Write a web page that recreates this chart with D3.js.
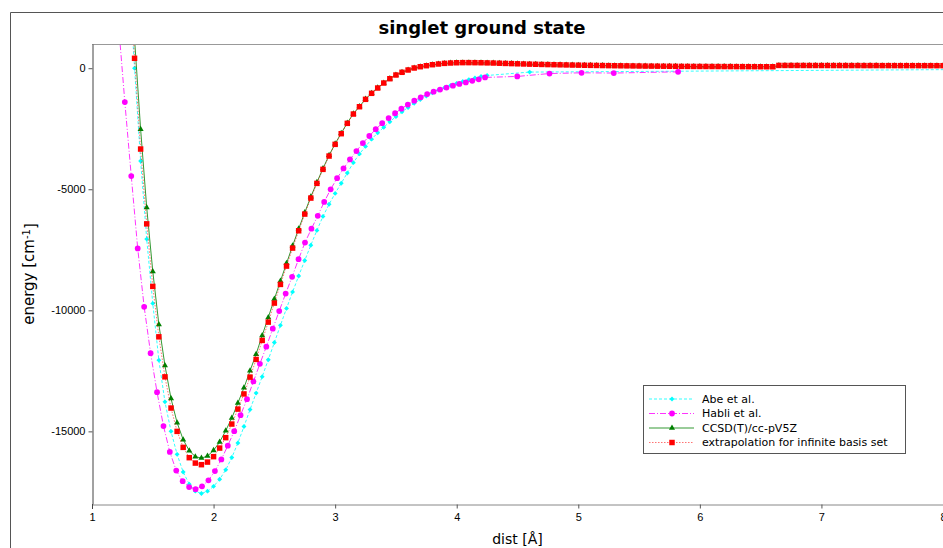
<!DOCTYPE html>
<html>
<head>
<meta charset="utf-8">
<script src="https://cdn.jsdelivr.net/npm/d3@7"></script>
<style>
body { margin: 0; background: #fff; }
svg { display: block; font-family: "DejaVu Sans", sans-serif; }
</style>
</head>
<body>
<div id="chart"></div>
<script>
// distance grid (Angstrom) of the CCSD(T) and extrapolated curves
const distCC = [
    1.30, 1.35, 1.40, 1.45, 1.50, 1.55, 1.60, 1.65, 1.70, 1.75,
    1.80, 1.85, 1.90, 1.95, 2.00, 2.05, 2.10, 2.15, 2.20, 2.25,
    2.30, 2.35, 2.40, 2.45, 2.50, 2.55, 2.60, 2.65, 2.70, 2.75,
    2.80, 2.85, 2.90, 2.95, 3.00, 3.05, 3.10, 3.15, 3.20, 3.25,
    3.30, 3.35, 3.40, 3.45, 3.50, 3.55, 3.60, 3.65, 3.70, 3.75,
    3.80, 3.85, 3.90, 3.95, 4.00, 4.05, 4.10, 4.15, 4.20, 4.25,
    4.30, 4.35, 4.40, 4.45, 4.50, 4.55, 4.60, 4.65, 4.70, 4.75,
    4.80, 4.85, 4.90, 4.95, 5.00, 5.05, 5.10, 5.15, 5.20, 5.25,
    5.30, 5.35, 5.40, 5.45, 5.50, 5.55, 5.60, 5.65, 5.70, 5.75,
    5.80, 5.85, 5.90, 5.95, 6.00, 6.05, 6.10, 6.15, 6.20, 6.25,
    6.30, 6.35, 6.40, 6.45, 6.50, 6.55, 6.60, 6.65, 6.70, 6.75,
    6.80, 6.85, 6.90, 6.95, 7.00, 7.05, 7.10, 7.15, 7.20, 7.25,
    7.30, 7.35, 7.40, 7.45, 7.50, 7.55, 7.60, 7.65, 7.70, 7.75,
    7.80, 7.85, 7.90, 7.95, 8.00
];

// CCSD(T)/cc-pV5Z energies (cm-1)
const ccsdE = [
    5600, 1200, -2525, -5755, -8393, -10583, -12277, -13645, -14640, -15343,
    -15798, -16045, -16103, -16020, -15785, -15442, -14971, -14450, -13830, -13200,
    -12500, -11810, -11037, -10293, -9537, -8793, -8060, -7335, -6635, -5960,
    -5310, -4712, -4140, -3598, -3120, -2685, -2260, -1880, -1580, -1277,
    -1030, -812, -607, -430, -278, -166, -72, 10, 63, 104,
    145, 174, 199, 214, 224, 229, 229, 227, 224, 219,
    213, 205, 197, 189, 181, 174, 167, 161, 155, 149,
    144, 139, 134, 129, 125, 121, 117, 113, 109, 105,
    102, 99, 96, 93, 90, 87, 85, 83, 81, 79,
    77, 75, 74, 72, 71, 70, 69, 68, 67, 66,
    65, 64, 63, 62, 61, 60, 59, 114, 113, 113,
    112, 112, 111, 111, 110, 110, 109, 109, 109, 108,
    108, 107, 107, 107, 106, 106, 106, 105, 105, 105,
    104, 104, 104, 103, 103
];

// extrapolation for infinite basis set (cm-1)
const extrapE = [
    4800, 409, -3339, -6430, -9012, -11095, -12748, -14037, -15000, -15661,
    -16087, -16310, -16376, -16269, -16045, -15690, -15260, -14698, -14080, -13455,
    -12760, -12029, -11244, -10488, -9702, -8930, -8174, -7430, -6715, -6025,
    -5364, -4757, -4178, -3628, -3145, -2705, -2277, -1893, -1591, -1285,
    -1037, -818, -612, -434, -281, -169, -74, 8, 62, 103,
    145, 174, 200, 215, 225, 230, 230, 228, 225, 220,
    214, 206, 198, 190, 182, 175, 168, 162, 156, 150,
    145, 140, 135, 130, 126, 122, 118, 114, 110, 106,
    103, 100, 97, 94, 91, 88, 86, 84, 82, 80,
    78, 76, 75, 73, 72, 71, 70, 69, 68, 67,
    66, 65, 64, 63, 62, 61, 60, 115, 114, 114,
    113, 113, 112, 112, 111, 111, 110, 110, 110, 109,
    109, 108, 108, 108, 107, 107, 107, 106, 106, 106,
    105, 105, 105, 104, 104
];

// Abe et al.
const distAbe = [
    1.30, 1.35, 1.40, 1.45, 1.50, 1.55, 1.60, 1.65, 1.70, 1.75,
    1.80, 1.85, 1.90, 1.95, 2.00, 2.05, 2.10, 2.15, 2.20, 2.25,
    2.30, 2.35, 2.40, 2.45, 2.50, 2.55, 2.60, 2.65, 2.70, 2.75,
    2.80, 2.85, 2.90, 2.95, 3.00, 3.05, 3.10, 3.15, 3.20, 3.25,
    3.30, 3.35, 3.40, 3.45, 3.50, 3.55, 3.60, 3.65, 3.70, 3.75,
    3.80, 3.85, 3.90, 3.95, 4.00, 4.05, 4.10, 4.15, 4.20, 4.25,
    4.60, 10.0
];
const abeE = [
    4200, -4, -3835, -7058, -9715, -12058, -13781, -15000, -15950, -16680,
    -17180, -17470, -17566, -17470, -17270, -16980, -16590, -16080, -15480, -14800,
    -14100, -13420, -12740, -12040, -11330, -10620, -9920, -9240, -8580, -7940,
    -7310, -6700, -6120, -5620, -5170, -4750, -4330, -3900, -3540, -3230,
    -2930, -2670, -2440, -2210, -2000, -1800, -1620, -1450, -1295, -1150,
    -1020, -905, -805, -710, -625, -545, -470, -405, -345, -300,
    -160, 0
];

// Habli et al. (their grid is 0.1 bohr, given here in Angstrom)
const distHabli = [
    1.217, 1.270, 1.323, 1.376, 1.429, 1.482, 1.535, 1.588, 1.640, 1.693,
    1.746, 1.799, 1.852, 1.905, 1.958, 2.011, 2.064, 2.117, 2.170, 2.222,
    2.275, 2.328, 2.381, 2.434, 2.487, 2.540, 2.593, 2.646, 2.699, 2.752,
    2.805, 2.857, 2.910, 2.963, 3.016, 3.069, 3.122, 3.175, 3.228, 3.281,
    3.334, 3.387, 3.440, 3.493, 3.545, 3.598, 3.651, 3.704, 3.757, 3.810,
    3.863, 3.916, 3.969, 4.022, 4.075, 4.128, 4.181, 4.233,
    4.498, 4.763, 5.027, 5.292, 5.821
];
const habliE = [
    1900, -1397, -4455, -7442, -9855, -11769, -13380, -14780, -15850, -16620,
    -17060, -17300, -17390, -17270, -17020, -16640, -16160, -15590, -14990, -14330,
    -13670, -12940, -12211, -11500, -10760, -10030, -9310, -8616, -7890, -7200,
    -6630, -6095, -5525, -5000, -4545, -4140, -3770, -3420, -3090, -2800,
    -2520, -2270, -2060, -1860, -1670, -1500, -1340, -1200, -1070, -970,
    -880, -800, -720, -650, -590, -520, -460, -380,
    -340, -220, -190, -200, -150
];

const seriesNames = ["Abe et al.", "Habli et al.", "CCSD(T)/cc-pV5Z", "extrapolation for infinite basis set"];
const xTicks = [1, 2, 3, 4, 5, 6, 7, 8];
const yTicks = [0, -5000, -10000, -15000];

// layout
const W = 943, H = 548;
const plot = { left: 92, right: 943, top: 44, bottom: 504 };

const svg = d3.select("#chart").append("svg")
    .attr("width", W)
    .attr("height", H);

const x = d3.scaleLinear().domain([1, 8]).range([plot.left, plot.right]);
const y = d3.scaleLinear().domain([-18000, 1000]).range([plot.bottom, plot.top]);

// outer frame (only top + left visible in the original)
svg.append("path")
    .attr("d", "M10.5,548 L10.5,12.5 L943,12.5")
    .attr("fill", "none")
    .attr("stroke", "#555");

svg.append("text")
    .attr("x", 482)
    .attr("y", 34)
    .attr("text-anchor", "middle")
    .style("font-size", "18px")
    .style("font-weight", "bold")
    .text("singlet ground state");

// top border of plot box
svg.append("line")
    .attr("x1", plot.left).attr("x2", plot.right)
    .attr("y1", plot.top + 0.5).attr("y2", plot.top + 0.5)
    .attr("stroke", "#999");

// axes
const xAxis = svg.append("g")
    .attr("transform", "translate(0," + (plot.bottom + 0.5) + ")")
    .call(d3.axisBottom(x).tickValues(xTicks).tickSize(4).tickSizeOuter(0).tickFormat(d => String(d)));
xAxis.select(".domain").attr("stroke", "#888");
xAxis.selectAll(".tick line").attr("stroke", "#555");
xAxis.selectAll("text").style("font-size", "11px").attr("dy", "0.9em");

const yAxis = svg.append("g")
    .attr("transform", "translate(" + (plot.left + 0.5) + ",0)")
    .call(d3.axisLeft(y).tickValues(yTicks).tickSize(4).tickSizeOuter(0).tickFormat(d => String(d)));
yAxis.select(".domain").attr("stroke", "#444");
yAxis.selectAll(".tick line").attr("stroke", "#555");
yAxis.selectAll("text").style("font-size", "11px");

// little overshoot of the y axis line below the x axis
svg.append("line")
    .attr("x1", plot.left + 0.5).attr("x2", plot.left + 0.5)
    .attr("y1", plot.bottom).attr("y2", plot.bottom + 5)
    .attr("stroke", "#444");

svg.append("text")
    .attr("x", (plot.left + plot.right) / 2)
    .attr("y", 544)
    .attr("text-anchor", "middle")
    .style("font-size", "14px")
    .text("dist [Å]");

const ylab = svg.append("text")
    .attr("transform", "translate(34," + ((plot.top + plot.bottom) / 2) + ") rotate(-90)")
    .attr("text-anchor", "middle")
    .style("font-size", "15px");
ylab.append("tspan").text("energy [cm");
ylab.append("tspan").attr("dy", "-0.45em").style("font-size", "10px").text("-1");
ylab.append("tspan").attr("dy", "0.45em").text("]");

// clip for the curves
svg.append("clipPath").attr("id", "clip")
    .append("rect")
    .attr("x", plot.left + 1).attr("y", plot.top + 1)
    .attr("width", plot.right - plot.left).attr("height", plot.bottom - plot.top - 1);

const series = [
    { name: seriesNames[0], xs: distAbe, ys: abeE, color: "#00ffff", dash: "3,2", symbol: d3.symbolSquare, size: 12, rot: 45 },
    { name: seriesNames[1], xs: distHabli, ys: habliE, color: "#ff00ff", dash: "6,2,1,2", symbol: d3.symbolCircle, size: 26, rot: 0 },
    { name: seriesNames[2], xs: distCC, ys: ccsdE, color: "#008000", dash: null, symbol: d3.symbolTriangle, size: 16, rot: 0 },
    { name: seriesNames[3], xs: distCC, ys: extrapE, color: "#ff0000", dash: "1.5,1.5", symbol: d3.symbolSquare, size: 30, rot: 0 }
];

const line = d3.line().x(d => x(d[0])).y(d => y(d[1]));

const curves = svg.append("g").attr("clip-path", "url(#clip)");

series.forEach(function (s) {
    const pts = s.xs.map((r, i) => [r, s.ys[i]]);
    const g = curves.append("g");
    g.append("path")
        .datum(pts)
        .attr("d", line)
        .attr("fill", "none")
        .attr("stroke", s.color)
        .attr("stroke-width", 1)
        .attr("stroke-opacity", s.name === seriesNames[3] ? 0.55 : 0.8)
        .attr("stroke-dasharray", s.dash);
    g.selectAll("path.pt")
        .data(pts)
        .enter()
        .append("path")
        .attr("class", "pt")
        .attr("d", d3.symbol().type(s.symbol).size(s.size))
        .attr("transform", d => "translate(" + x(d[0]) + "," + y(d[1]) + ") rotate(" + s.rot + ")")
        .attr("fill", s.color);
});

// legend
const lg = svg.append("g").attr("transform", "translate(643,385)");
lg.append("rect")
    .attr("x", 0.5).attr("y", 0.5)
    .attr("width", 262).attr("height", 68)
    .attr("fill", "#fff")
    .attr("stroke", "#555");

series.forEach(function (s, i) {
    const row = lg.append("g").attr("transform", "translate(0," + (14 + i * 14.5) + ")");
    row.append("line")
        .attr("x1", 6).attr("x2", 51)
        .attr("stroke", s.color)
        .attr("stroke-opacity", i === 3 ? 0.55 : 0.8)
        .attr("stroke-dasharray", s.dash);
    row.append("path")
        .attr("d", d3.symbol().type(s.symbol).size(s.size))
        .attr("transform", "translate(29,0) rotate(" + s.rot + ")")
        .attr("fill", s.color);
    row.append("text")
        .attr("x", 59)
        .attr("dy", "0.35em")
        .style("font-size", "11px")
        .text(s.name);
});
</script>
</body>
</html>
